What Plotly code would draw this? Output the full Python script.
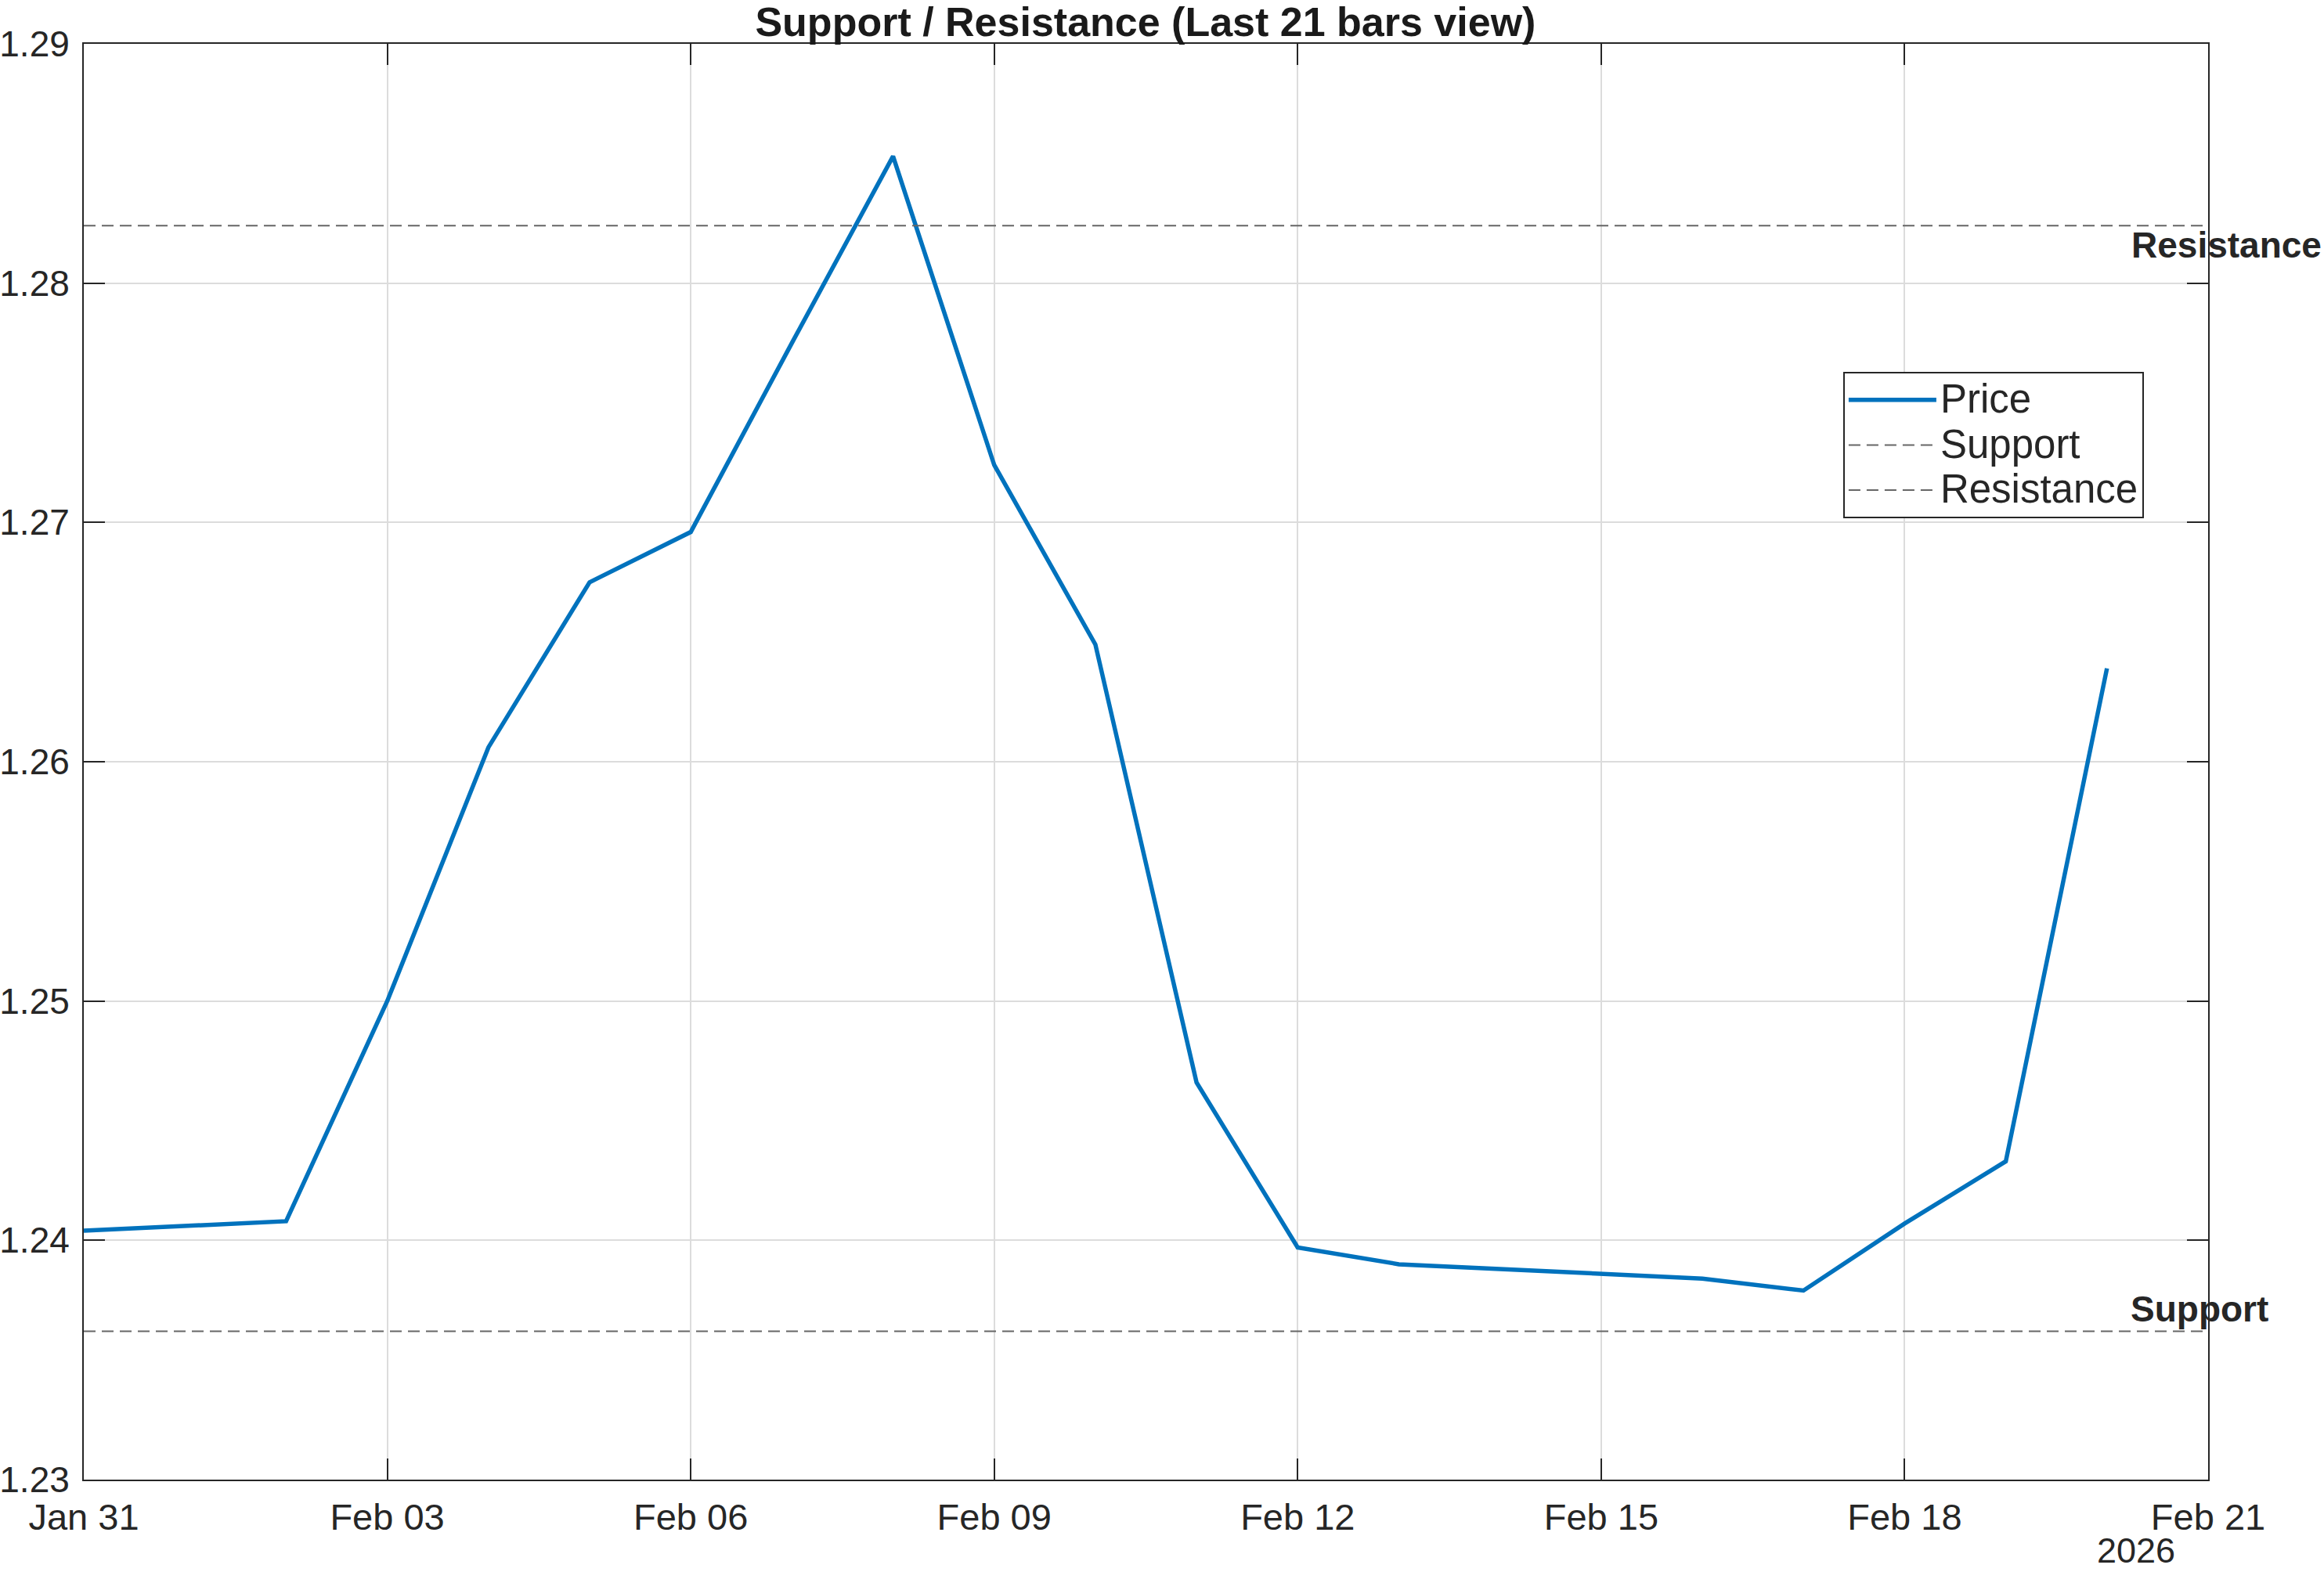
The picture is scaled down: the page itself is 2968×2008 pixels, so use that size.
import plotly.graph_objects as go

# ---- data ----
dates = ["2026-01-31", "2026-02-01", "2026-02-02", "2026-02-03", "2026-02-04",
         "2026-02-05", "2026-02-06", "2026-02-07", "2026-02-08", "2026-02-09",
         "2026-02-10", "2026-02-11", "2026-02-12", "2026-02-13", "2026-02-14",
         "2026-02-15", "2026-02-16", "2026-02-17", "2026-02-18", "2026-02-19",
         "2026-02-20"]
price = [1.2404, 1.2406, 1.2408, 1.2500, 1.2606,
         1.2675, 1.2696, 1.2775, 1.2853, 1.2724,
         1.2649, 1.2466, 1.2397, 1.2390, 1.2388,
         1.2386, 1.2384, 1.2379, 1.2407, 1.2433,
         1.2639]
support_level = 1.2362
resistance_level = 1.2824
x_range = ["2026-01-31", "2026-02-21"]
x_tickvals = ["2026-01-31", "2026-02-03", "2026-02-06", "2026-02-09",
              "2026-02-12", "2026-02-15", "2026-02-18", "2026-02-21"]
x_ticktext = ["Jan 31", "Feb 03", "Feb 06", "Feb 09", "Feb 12", "Feb 15", "Feb 18", "Feb 21"]
y_tickvals = [1.23, 1.24, 1.25, 1.26, 1.27, 1.28, 1.29]
y_ticktext = ["1.23", "1.24", "1.25", "1.26", "1.27", "1.28", "1.29"]
year_label = "2026"
title_text = "Support / Resistance (Last 21 bars view)"
series_names = ["Price", "Support", "Resistance"]

FONT = "Liberation Sans, Arial, Helvetica, sans-serif"
DARK = "#262626"


def legend_name(s):
    return '<span style="font-size:51px">' + s + '</span>'


fig = go.Figure()
fig.add_trace(go.Scatter(x=dates, y=price, mode="lines", name=legend_name(series_names[0]),
                         line=dict(color="#0072BD", width=5.5)))
fig.add_trace(go.Scatter(x=x_range, y=[support_level] * 2, mode="lines",
                         name=legend_name(series_names[1]),
                         line=dict(color="#666666", width=2, dash="15px,8px")))
fig.add_trace(go.Scatter(x=x_range, y=[resistance_level] * 2, mode="lines",
                         name=legend_name(series_names[2]),
                         line=dict(color="#666666", width=2, dash="15px,8px")))

fig.add_annotation(x=dates[-1], y=resistance_level, xref="x", yref="y",
                   text="<b>Resistance</b>", showarrow=False, xanchor="left", yanchor="middle",
                   xshift=29, yshift=-25, font=dict(family=FONT, size=46, color=DARK))
fig.add_annotation(x=dates[-1], y=support_level, xref="x", yref="y",
                   text="<b>Support</b>", showarrow=False, xanchor="left", yanchor="middle",
                   xshift=28, yshift=28, font=dict(family=FONT, size=46, color=DARK))
fig.add_annotation(x=0.9661, y=-0.0643, xref="paper", yref="paper",
                   text=year_label, showarrow=False, xanchor="center", yanchor="bottom",
                   font=dict(family=FONT, size=45, color=DARK))

axis_common = dict(showline=True, linecolor=DARK, linewidth=2, mirror="ticks",
                   ticks="inside", ticklen=27, tickwidth=2, tickcolor=DARK,
                   showgrid=True, gridcolor="#dcdcdc", gridwidth=1.5, zeroline=False,
                   automargin=False)

fig.update_layout(
    width=2968, height=2008,
    margin=dict(l=107, r=148, t=56, b=118),
    paper_bgcolor="white", plot_bgcolor="white",
    title=dict(text="<b>" + title_text + "</b>", x=0.4929, xanchor="center",
               y=1 - 46 / 2008, yanchor="bottom", yref="container",
               font=dict(family=FONT, size=52, color="#1a1a1a")),
    xaxis=dict(type="date", range=x_range, tickvals=x_tickvals, ticktext=x_ticktext,
               ticklabelstandoff=6, tickfont=dict(family=FONT, size=47, color=DARK),
               **axis_common),
    yaxis=dict(range=[1.23, 1.29], tickvals=y_tickvals, ticktext=y_ticktext,
               ticklabelstandoff=7, tickfont=dict(family=FONT, size=46, color=DARK),
               **axis_common),
    legend=dict(x=0.8282, y=0.7715, xanchor="left", yanchor="top",
                bgcolor="white", bordercolor=DARK, borderwidth=2,
                font=dict(family=FONT, size=42, color=DARK),
                itemwidth=112, tracegroupgap=0),
    showlegend=True,
)

fig.write_html("out.html")
